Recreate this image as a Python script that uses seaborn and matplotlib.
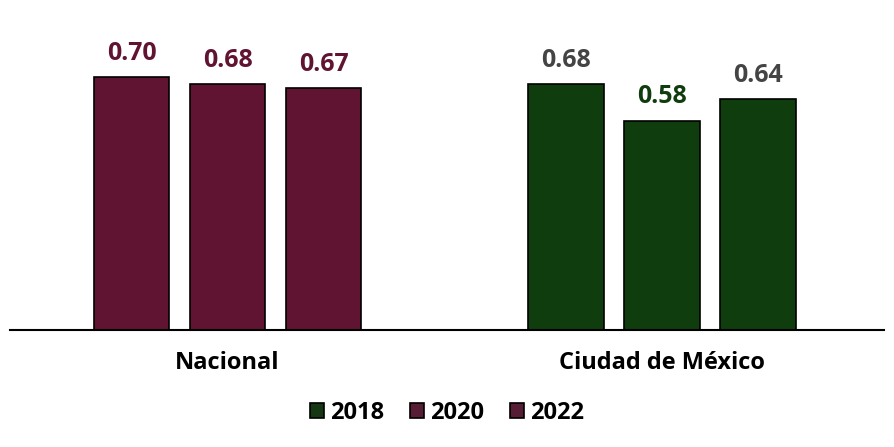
import seaborn as sns
import matplotlib.pyplot as plt
import pandas as pd

# Data
regions = ["Nacional", "Ciudad de México"]
years = ["2018", "2020", "2022"]
nacional = [0.70, 0.68, 0.67]
cdmx = [0.68, 0.58, 0.64]

maroon = "#601432"
green = "#0F3D0E"
gray = "#444444"

df = pd.DataFrame({
    "region": [regions[0]] * 3 + [regions[1]] * 3,
    "year": years * 2,
    "value": nacional + cdmx,
})

sns.set_theme(style="white")
plt.rcParams['font.family'] = ['Open Sans', 'DejaVu Sans']
plt.rcParams['text.color'] = 'black'
plt.rcParams['xtick.color'] = 'black'

fig = plt.figure(figsize=(8.94, 4.47), dpi=100)
ax = fig.add_axes([10 / 894, 1 - 330 / 447, 874 / 894, 330 / 447])

sns.barplot(data=df, x="region", y="value", hue="year", order=regions, hue_order=years,
            palette=[green, maroon, maroon], edgecolor="black", linewidth=1.2,
            width=0.663, gap=0.21, ax=ax)

# bar colours follow the region, label colours per bar (Nacional / CDMX)
label_colors = [
    [maroon, gray],
    [maroon, green],
    [maroon, gray],
]
for i, cont in enumerate(ax.containers):
    for j, bar in enumerate(cont):
        bar.set_facecolor(maroon if j == 0 else green)
    texts = ax.bar_label(cont, fmt="%.2f", padding=8, fontsize=18, fontweight="bold")
    for j, t in enumerate(texts):
        t.set_color(label_colors[i][j])

ax.set_xlim(-0.5006, 1.511)
ax.set_ylim(0, 0.914)
ax.set_xlabel("")
ax.set_ylabel("")
ax.set_yticks([])
ax.tick_params(axis="x", length=0, pad=15, labelsize=17, labelcolor="black")
for lbl in ax.get_xticklabels():
    lbl.set_fontweight("bold")
for s in ["top", "left", "right"]:
    ax.spines[s].set_visible(False)
ax.spines["bottom"].set_color("black")
ax.spines["bottom"].set_linewidth(1.5)

leg = ax.legend(loc="center", bbox_to_anchor=(0.5, 1 - 413 / 447), bbox_transform=fig.transFigure,
                ncol=3, frameon=False, prop={"weight": "bold", "size": 17},
                handlelength=0.6, handleheight=0.6, handletextpad=0.25, columnspacing=1.1)
for t in leg.get_texts():
    t.set_color("black")

fig.savefig("out.png", dpi=100)
